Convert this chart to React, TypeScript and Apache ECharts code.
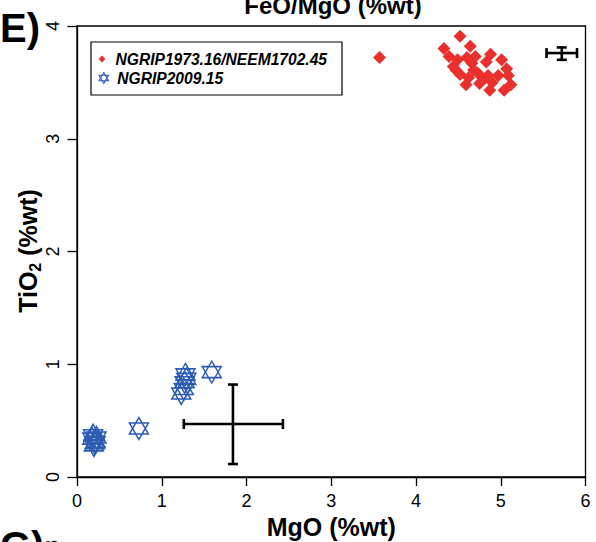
import React, { useEffect, useRef } from "react";
import * as echarts from "echarts";

// NGRIP1973.16 / NEEM1702.45 shards
const redMgO = [
  4.52, 4.64, 4.33, 4.39, 4.49, 4.6, 4.7, 4.88, 5.01, 4.44, 4.66, 4.83, 5.07, 4.52, 4.62, 4.73, 4.85,
  4.97, 5.09, 4.75, 4.87, 5.04, 5.12, 4.59, 4.47, 4.68, 4.9, 4.8, 3.57,
];
const redTiO2 = [
  3.91, 3.82, 3.8, 3.73, 3.7, 3.72, 3.73, 3.75, 3.7, 3.64, 3.67, 3.68, 3.62, 3.57, 3.54, 3.58, 3.56,
  3.56, 3.56, 3.49, 3.43, 3.43, 3.48, 3.48, 3.61, 3.61, 3.5, 3.53, 3.72,
];

// NGRIP2009.15 shards
const blueMgO = [0.18, 0.22, 0.2, 0.23, 0.19, 0.21, 0.73, 1.23, 1.26, 1.27, 1.29, 1.28, 1.59];
const blueTiO2 = [0.34, 0.31, 0.28, 0.35, 0.37, 0.3, 0.43, 0.74, 0.78, 0.84, 0.87, 0.91, 0.93];

// Analytical uncertainty bars (centre, low, high)
const errMgO = [5.72, 1.84];
const errMgOLow = [5.54, 1.26];
const errMgOHigh = [5.9, 2.43];
const errTiO2 = [3.76, 0.47];
const errTiO2Low = [3.7, 0.115];
const errTiO2High = [3.81, 0.82];

const redName = "NGRIP1973.16/NEEM1702.45";
const blueName = "NGRIP2009.15";

const FONT = "'Liberation Sans', Arial, Helvetica, sans-serif";
const RED = "#e9302d";
const BLUE = "#2b5cb3";
const STAR = "path://M0,-10L8.66,5L-8.66,5Z M0,10L8.66,-5L-8.66,-5Z";
const DIAMOND = "path://M0,-10L10,0L0,10L-10,0Z";

export default function App() {
  const ref = useRef<HTMLDivElement>(null);

  useEffect(() => {
    if (!ref.current) return;
    const chart = echarts.init(ref.current, undefined, { renderer: "svg" });

    const redData = redMgO.map((x, i) => [x, redTiO2[i]]);
    const blueData = blueMgO.map((x, i) => [x, blueTiO2[i]]);
    const errData = errMgO.map((x, i) => [
      x,
      errTiO2[i],
      errMgOLow[i],
      errMgOHigh[i],
      errTiO2Low[i],
      errTiO2High[i],
    ]);

    const legendText = {
      fontFamily: FONT,
      fontSize: 15.6,
      fontWeight: "bold" as const,
      fontStyle: "italic" as const,
      color: "#000",
    };

    chart.setOption({
      animation: false,
      grid: {
        left: 77,
        top: 26,
        width: 508.5,
        height: 451,
        show: true,
        borderColor: "#000",
        borderWidth: 1.3,
        backgroundColor: "transparent",
        containLabel: false,
        outerBoundsMode: "none",
      },
      xAxis: {
        type: "value",
        min: 0,
        max: 6,
        interval: 1,
        splitLine: { show: false },
        axisLine: { show: true, lineStyle: { color: "#000", width: 1.3 } },
        axisTick: { show: true, length: 9, lineStyle: { color: "#000", width: 1.3 } },
        axisLabel: { fontFamily: FONT, fontSize: 18, color: "#000", margin: 15 },
        name: "MgO (%wt)",
        nameLocation: "middle",
        nameGap: 25,
        nameTextStyle: { fontFamily: FONT, fontSize: 25, fontWeight: "bold", color: "#000" },
      },
      yAxis: {
        type: "value",
        min: 0,
        max: 4,
        interval: 1,
        splitLine: { show: false },
        axisLine: { show: true, lineStyle: { color: "#000", width: 1.3 } },
        axisTick: { show: true, length: 9.5, lineStyle: { color: "#000", width: 1.3 } },
        axisLabel: { fontFamily: FONT, fontSize: 18, color: "#000", margin: 15, rotate: 90 },
      },
      legend: [
        {
          data: [{ name: redName, icon: DIAMOND, itemStyle: { color: RED, borderWidth: 0 } }],
          left: 98.5,
          top: 51,
          padding: 0,
          itemWidth: 17,
          itemHeight: 7,
          symbolKeepAspect: true,
          selectedMode: false,
          textStyle: legendText,
        },
        {
          data: [
            {
              name: blueName,
              icon: STAR,
              itemStyle: { color: "transparent", borderColor: BLUE, borderWidth: 1.1 },
            },
          ],
          left: 98.5,
          top: 70,
          padding: 0,
          itemWidth: 17,
          itemHeight: 11,
          symbolKeepAspect: true,
          selectedMode: false,
          textStyle: legendText,
        },
      ],
      graphic: [
        {
          type: "rect",
          shape: { x: 91, y: 42, width: 251, height: 53 },
          style: { fill: "none", stroke: "#000", lineWidth: 1.2 },
        },
        {
          type: "text",
          x: 0,
          y: 27.5,
          style: {
            text: "E)",
            fontFamily: FONT,
            fontSize: 40,
            fontWeight: "bold",
            fill: "#000",
            align: "left",
            verticalAlign: "middle",
          },
        },
        {
          type: "text",
          x: 333,
          y: 5,
          style: {
            text: "FeO/MgO (%wt)",
            fontFamily: FONT,
            fontSize: 24,
            fontWeight: "bold",
            fill: "#000",
            align: "center",
            verticalAlign: "middle",
          },
        },
        {
          type: "text",
          x: 0,
          y: 546,
          style: {
            text: "G)",
            fontFamily: FONT,
            fontSize: 40,
            fontWeight: "bold",
            fill: "#000",
            align: "left",
            verticalAlign: "middle",
          },
        },
        {
          type: "text",
          x: 52,
          y: 545,
          rotation: Math.PI / 2,
          style: {
            text: "8",
            fontFamily: FONT,
            fontSize: 18,
            fill: "#000",
            align: "center",
            verticalAlign: "middle",
          },
        },
        {
          type: "text",
          x: 28,
          y: 251,
          rotation: Math.PI / 2,
          style: {
            text: "{a|TiO}{s|2}{a| (%wt)}",
            align: "center",
            verticalAlign: "middle",
            rich: {
              a: {
                fontFamily: FONT,
                fontSize: 25,
                fontWeight: "bold",
                fill: "#000",
                lineHeight: 30,
              },
              s: {
                fontFamily: FONT,
                fontSize: 16,
                fontWeight: "bold",
                fill: "#000",
                lineHeight: 16,
                verticalAlign: "bottom",
              },
            },
          },
        },
      ],
      series: [
        {
          name: redName,
          type: "scatter",
          symbol: "diamond",
          symbolSize: 13,
          itemStyle: { color: RED, opacity: 1 },
          data: redData,
          z: 3,
        },
        {
          name: blueName,
          type: "scatter",
          symbol: STAR,
          symbolSize: [19, 22],
          itemStyle: { color: "transparent", borderColor: BLUE, borderWidth: 1.5, opacity: 1 },
          data: blueData,
          z: 4,
        },
        {
          type: "custom",
          encode: { x: [0, 2, 3], y: [1, 4, 5] },
          data: errData,
          z: 5,
          renderItem: (_params: any, api: any) => {
            const cx = api.value(0);
            const cy = api.value(1);
            const l = api.coord([api.value(2), cy]);
            const r = api.coord([api.value(3), cy]);
            const b = api.coord([cx, api.value(4)]);
            const t = api.coord([cx, api.value(5)]);
            const cap = 5;
            const style = { stroke: "#000", lineWidth: 2.6, fill: "none" };
            const line = (x1: number, y1: number, x2: number, y2: number) => ({
              type: "line",
              shape: { x1, y1, x2, y2 },
              style,
            });
            return {
              type: "group",
              children: [
                line(l[0], l[1], r[0], r[1]),
                line(l[0], l[1] - cap, l[0], l[1] + cap),
                line(r[0], r[1] - cap, r[0], r[1] + cap),
                line(b[0], b[1], t[0], t[1]),
                line(b[0] - cap, b[1], b[0] + cap, b[1]),
                line(t[0] - cap, t[1], t[0] + cap, t[1]),
              ],
            };
          },
        },
      ],
    });

    return () => chart.dispose();
  }, []);

  return <div ref={ref} style={{ width: 596, height: 542, position: "absolute", left: 0, top: 0 }} />;
}
